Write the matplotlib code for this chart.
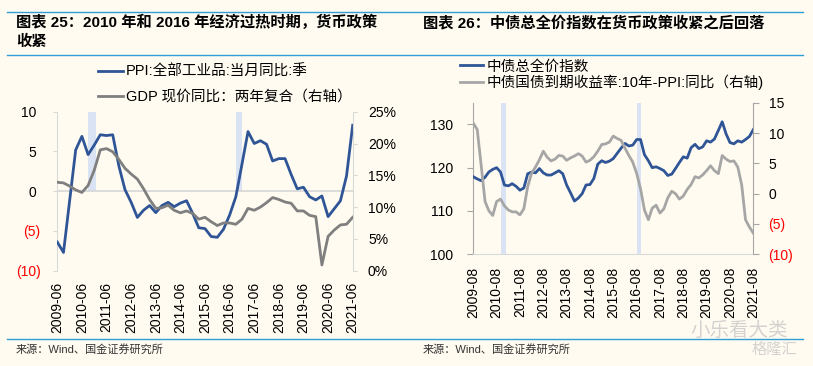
import matplotlib
matplotlib.use('Agg')
import matplotlib.pyplot as plt
import pandas as pd
from matplotlib.lines import Line2D

plt.rcParams['font.family'] = ['Liberation Sans', 'Noto Sans CJK SC']

# ---------------- data: left chart (quarterly) ----------------
left_start = '2009-06-01'
ppi = [-6.4, -7.7, -1.2, 5.2, 6.9, 4.6, 5.8, 7.1, 7.0, 7.1, 3.2, 0.2, -1.4, -3.3,
       -2.4, -1.8, -2.7, -1.8, -1.4, -1.95, -1.5, -1.2, -2.8, -4.6, -4.7, -5.7,
       -5.8, -4.8, -3.0, -0.7, 3.4, 7.5, 6.0, 6.35, 5.9, 3.8, 4.1, 4.1, 2.1, 0.3,
       0.5, -0.7, -1.1, -0.6, -3.2, -2.2, -1.2, 1.9, 8.3]
gdp = [13.9, 13.8, 13.3, 12.7, 12.3, 13.4, 15.8, 19.0, 19.2, 18.7, 17.5, 16.1,
       15.2, 14.4, 12.9, 11.2, 9.8, 9.9, 10.3, 9.5, 9.1, 9.4, 9.0, 8.1, 8.4, 7.7,
       7.1, 7.5, 7.5, 7.3, 8.1, 9.8, 9.5, 10.0, 10.7, 11.5, 11.2, 10.8, 10.6, 9.4,
       9.4, 8.7, 8.5, 0.9, 5.4, 6.4, 7.2, 7.3, 8.4]
left_shade_start = ['2010-09-01', '2016-09-01']
left_shade_end = ['2011-01-01', '2016-12-01']
left_shade_top = 10
left_yticks = [-10, -5, 0, 5, 10]
left_ylabels = ['(10)', '(5)', '0 ', '5 ', '10 ']
left_rticks = [0, 5, 10, 15, 20, 25]
left_rlabels = ['0%', '5%', '10%', '15%', '20%', '25%']
left_legend = ['PPI:全部工业品:当月同比:季', 'GDP 现价同比：两年复合（右轴）']

# ---------------- data: right chart (every two months) ----------------
right_start = '2009-08-01'
bond = [117.9, 117.4, 117.0, 117.8, 119.0, 119.6, 120.0, 119.0, 116.0, 115.8,
        116.3, 115.7, 114.8, 115.3, 118.6, 119.0, 118.8, 119.8, 118.8, 118.3,
        118.3, 118.8, 119.3, 118.6, 116.0, 114.2, 112.3, 113.0, 114.0, 116.0,
        116.1, 117.5, 120.8, 121.6, 121.2, 121.5, 122.1, 123.3, 124.5, 125.6,
        125.0, 125.2, 126.5, 126.5, 123.0, 121.6, 120.0, 120.2, 119.8, 119.3,
        118.2, 118.5, 119.8, 121.2, 122.5, 122.2, 124.6, 125.4, 124.4, 124.8,
        126.2, 125.9, 126.6, 128.6, 130.6, 127.8, 125.8, 125.5, 126.2, 125.9,
        126.5, 127.2, 128.8]
spread = [11.6, 10.6, 4.8, -1.3, -2.8, -3.6, -1.3, -0.9, -2.0, -2.7,
          -3.0, -3.0, -3.5, -2.5, 1.2, 3.4, 4.4, 5.6, 7.0, 6.0,
          5.4, 5.7, 6.3, 6.2, 5.5, 5.9, 6.2, 6.6, 6.2, 5.2,
          5.5, 6.1, 7.0, 8.1, 8.2, 8.5, 9.5, 9.1, 8.8, 7.5,
          6.3, 5.2, 3.35, 0.8, -2.7, -4.3, -2.4, -1.9, -3.2, -2.5,
          -0.7, 0.4, 0.0, -0.9, -0.4, 0.7, 1.5, 2.8, 2.6, 3.1,
          3.8, 4.6, 3.8, 3.3, 6.3, 5.7, 5.3, 5.4, 4.4, 1.4,
          -4.3, -5.5, -6.5]
right_shade_start = ['2010-10-08', '2016-08-01']
right_shade_end = ['2011-01-01', '2016-10-10']
right_yticks = [100, 110, 120, 130]
right_ylabels = ['100 ', '110 ', '120 ', '130 ']
right_rticks = [-10, -5, 0, 5, 10, 15]
right_rlabels = ['(10)', '(5)', '0', '5', '10', '15']
right_legend = ['中债总全价指数', '中债国债到期收益率:10年-PPI:同比（右轴)']

# ---------------- style ----------------
W, H = 813, 366
BG = '#FFFBF0'
BLUE = '#2F5597'
GREY = '#7F7F7F'
LGREY = '#A6A6A6'
SHADE = '#DAE3F3'
RULE = '#2E9FD6'
RED = '#FF0000'
FS = 10


def fx(px):
    return px / W


def fy(py):
    return 1 - py / H


fig = plt.figure(figsize=(W / 100, H / 100), dpi=100, facecolor=BG)

# rules
for yy in (11.7, 54.5, 339.3):
    fig.add_artist(Line2D([fx(7), fx(803)], [fy(yy), fy(yy)], color=RULE, lw=1.0))

# titles
fig.text(fx(16), fy(22), '图表 25：2010 年和 2016 年经济过热时期，货币政策', fontsize=11,
         fontweight='bold', va='center', ha='left')
fig.text(fx(16), fy(42), '收紧', fontsize=11, fontweight='bold', va='center', ha='left')
fig.text(fx(423), fy(23), '图表 26：中债总全价指数在货币政策收紧之后回落', fontsize=11,
         fontweight='bold', va='center', ha='left')

# sources
fig.text(fx(16), fy(349.5), '来源：Wind、国金证券研究所', fontsize=8, color='#333333', va='center')
fig.text(fx(423), fy(349.5), '来源：Wind、国金证券研究所', fontsize=8, color='#333333', va='center')

# ================= left chart =================
ldates = pd.date_range(left_start, periods=len(ppi), freq='3MS')
ax1 = fig.add_axes([fx(57.3), fy(270.7), fx(352.7) - fx(57.3), fy(111.7) - fy(270.7)])
ax1.set_facecolor('none')
for s, e in zip(left_shade_start, left_shade_end):
    ax1.fill_between([pd.Timestamp(s), pd.Timestamp(e)], 0, left_shade_top,
                     color=SHADE, lw=0, zorder=1)
ax1.axhline(0, color='#D9D9D9', lw=1.3, zorder=2)
l1, = ax1.plot(ldates, ppi, color=BLUE, lw=2.0, zorder=3, label=left_legend[0])
ax1.set_xlim(ldates[0], ldates[-1])
ax1.set_ylim(-10, 10)
ax1.set_yticks(left_yticks, left_ylabels)
for lab, v in zip(ax1.get_yticklabels(), left_yticks):
    lab.set_color(RED if v < 0 else 'black')
ax1.set_xticks(ldates[::4], [d.strftime('%Y-%m') for d in ldates[::4]])
ax1.tick_params(axis='x', length=0, pad=8, labelsize=FS, rotation=90)
ax1.tick_params(axis='y', length=3, color='#D9D9D9', pad=9, labelsize=FS)
for sp in ('top', 'bottom', 'right'):
    ax1.spines[sp].set_visible(False)
ax1.spines['left'].set_color('#D9D9D9')

ax1r = ax1.twinx()
l2, = ax1r.plot(ldates, gdp, color=GREY, lw=2.0, label=left_legend[1])
ax1r.set_ylim(0, 25)
ax1r.set_yticks(left_rticks, left_rlabels)
ax1r.tick_params(axis='y', length=3, color='#D9D9D9', pad=8, labelsize=FS)
for sp in ('top', 'bottom', 'left'):
    ax1r.spines[sp].set_visible(False)
ax1r.spines['right'].set_color('#D9D9D9')

fig.legend(handles=[l1, l2], loc='center left', bbox_to_anchor=(fx(98), fy(84.5)),
           bbox_transform=fig.transFigure, frameon=False, fontsize=10.5,
           handlelength=1.7, handletextpad=0.2, labelspacing=0.75,
           borderpad=0, borderaxespad=0)

# ================= right chart =================
rdates = pd.date_range(right_start, periods=len(bond), freq='2MS')
ax2 = fig.add_axes([fx(473.3), fy(254.3), fx(753.3) - fx(473.3), fy(102.7) - fy(254.3)])
ax2.set_facecolor('none')
for s, e in zip(right_shade_start, right_shade_end):
    ax2.axvspan(pd.Timestamp(s), pd.Timestamp(e), color=SHADE, lw=0, zorder=1)
r1, = ax2.plot(rdates, bond, color=BLUE, lw=2.0, zorder=3, label=right_legend[0])
ax2.set_xlim(rdates[0], rdates[-1])
ax2.set_ylim(100, 135)
ax2.set_yticks(right_yticks, right_ylabels)
yt = rdates[::6]
ax2.set_xticks(yt, [d.strftime('%Y-%m') for d in yt])
ax2.tick_params(axis='x', length=0, pad=9, labelsize=FS, rotation=90)
ax2.tick_params(axis='y', length=4, color=LGREY, pad=8, labelsize=FS)
ax2.spines['top'].set_visible(False)
ax2.spines['right'].set_visible(False)
ax2.spines['left'].set_color(LGREY)
ax2.spines['bottom'].set_color('#D9D9D9')

ax2r = ax2.twinx()
r2, = ax2r.plot(rdates, spread, color=LGREY, lw=2.0, label=right_legend[1])
ax2r.set_ylim(-10, 15)
ax2r.set_yticks(right_rticks, right_rlabels)
for lab, v in zip(ax2r.get_yticklabels(), right_rticks):
    lab.set_color(RED if v < 0 else 'black')
ax2r.tick_params(axis='y', length=4, color=LGREY, pad=7, labelsize=FS)
for sp in ('top', 'bottom', 'left'):
    ax2r.spines[sp].set_visible(False)
ax2r.spines['right'].set_color(LGREY)

fig.legend(handles=[r1, r2], loc='center left', bbox_to_anchor=(fx(460), fy(75)),
           bbox_transform=fig.transFigure, frameon=False, fontsize=10.5,
           handlelength=1.6, handletextpad=0.2, labelspacing=0.1,
           borderpad=0, borderaxespad=0)

# watermarks
fig.text(fx(690), fy(331), '小乐看大类', fontsize=14, color='#C8C8C8', va='center', alpha=0.8)
fig.text(fx(752), fy(350), '格隆汇', fontsize=11, color='#C8C8C8', va='center', alpha=0.8)

fig.savefig('out.png', dpi=100, facecolor=BG)
